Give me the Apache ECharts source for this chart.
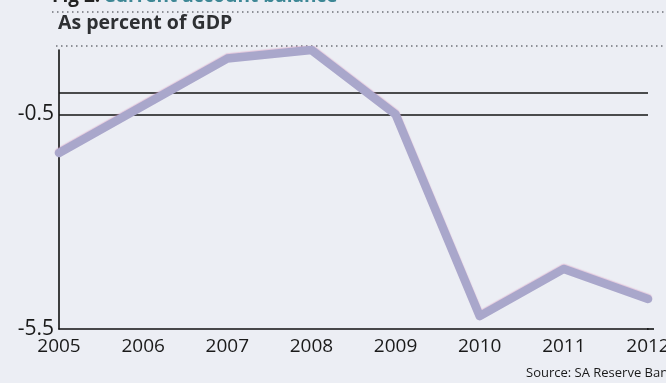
<!DOCTYPE html>
<html>
<head>
<meta charset="utf-8">
<script src="https://cdn.jsdelivr.net/npm/echarts@6/dist/echarts.min.js"></script>
<style>
  html, body { margin: 0; padding: 0; background: #eceef4; }
  #chart { width: 666px; height: 383px; }
</style>
</head>
<body>
<div id="chart"></div>
<script>
// Current account balance, as percent of GDP
const years = ['2005', '2006', '2007', '2008', '2009', '2010', '2011', '2012'];
const balance = [-1.4, -0.3, 0.8, 1.0, -0.5, -5.2, -4.1, -4.8];
const labelledTicks = [-0.5, -5.5];
const referenceLines = [0, -0.5];

const FONT = '"Open Sans", "DejaVu Sans", sans-serif';
const chart = echarts.init(document.getElementById('chart'), null, { renderer: 'canvas' });

const dotted = { stroke: '#6f7278', lineWidth: 1.6, lineDash: [1.5, 3.5] };

chart.setOption({
  backgroundColor: '#eceef4',
  animation: false,
  grid: { left: 59, right: 18, top: 50, bottom: 54, containLabel: false, outerBoundsMode: 'none' },
  xAxis: {
    type: 'category',
    data: years,
    boundaryGap: false,
    axisLine: { onZero: false, lineStyle: { color: '#111', width: 1.6 } },
    axisTick: { show: false },
    axisLabel: { color: '#1a1a1a', fontFamily: FONT, fontSize: 19, margin: 8, interval: 0, hideOverlap: false }
  },
  yAxis: {
    type: 'value',
    min: -5.5,
    max: 1,
    interval: 0.5,
    axisLine: { show: true, lineStyle: { color: '#111', width: 1.6 } },
    axisTick: { show: false },
    splitLine: { show: false },
    axisLabel: {
      color: '#1a1a1a', fontFamily: FONT, fontSize: 21, margin: 5,
      formatter: v => labelledTicks.some(t => Math.abs(t - v) < 1e-9) ? String(v) : ''
    }
  },
  series: [{
    type: 'line',
    data: balance,
    symbol: 'none',
    z: 3,
    lineStyle: {
      color: '#a9a7cb', width: 8.5, cap: 'round', join: 'round',
      shadowColor: 'rgba(214,150,190,0.45)', shadowBlur: 1, shadowOffsetY: -1
    },
    markLine: {
      silent: true,
      symbol: 'none',
      label: { show: false },
      lineStyle: { color: '#151515', width: 1.6, type: 'solid' },
      z: 1,
      data: referenceLines.map(v => ({ yAxis: v }))
    }
  }],
  graphic: [
    {
      type: 'text', left: 52, top: -13, z: 10,
      style: {
        text: '{a|Fig 2:} {b|Current account balance}',
        rich: {
          a: { fontFamily: FONT, fontSize: 19, fontWeight: 'bold', fill: '#222' },
          b: { fontFamily: FONT, fontSize: 19, fontWeight: 'bold', fill: '#3d8795' }
        }
      }
    },
    { type: 'line', shape: { x1: 52, y1: 12, x2: 666, y2: 12 }, style: dotted },
    {
      type: 'text', left: 58, top: 13, z: 10,
      style: { text: 'As percent of GDP', fontFamily: FONT, fontSize: 19.5, fontWeight: 'bold', fill: '#2e3033' }
    },
    { type: 'line', shape: { x1: 56, y1: 46, x2: 666, y2: 46 }, style: dotted },
    { type: 'line', shape: { x1: 647, y1: 329, x2: 654, y2: 329 }, style: { stroke: '#111', lineWidth: 1.6 } },
    {
      type: 'text', left: 526, top: 367, z: 10,
      style: { text: 'Source: SA Reserve Bank', fontFamily: FONT, fontSize: 13, fill: '#1a1a1a' }
    }
  ]
});
</script>
</body>
</html>
